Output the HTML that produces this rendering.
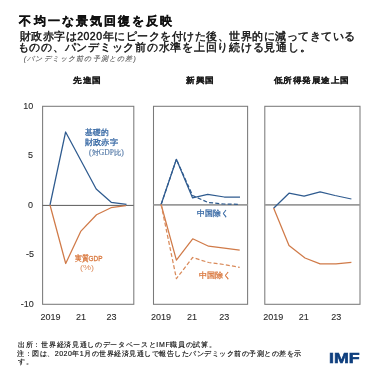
<!DOCTYPE html>
<html><head><meta charset="utf-8">
<style>
html,body{margin:0;padding:0;background:#fff;}
body{width:379px;height:379px;position:relative;overflow:hidden;filter:blur(0.3px);font-family:"Liberation Sans",sans-serif;color:#222;}
.t{position:absolute;white-space:nowrap;line-height:1;transform-origin:0 0;}
svg{position:absolute;left:0;top:0;}
</style></head><body>
<svg width="379" height="379" viewBox="0 0 379 379">
 <g fill="none" stroke="#7a7a7a" stroke-width="1.05">
  <rect x="42.6" y="106.3" width="91.2" height="198"/>
  <rect x="153.5" y="106.3" width="94.1" height="198"/>
  <rect x="264.8" y="106.3" width="95.2" height="198"/>
 </g>
 <g>
  <line x1="42.6" y1="205.4" x2="133.6" y2="205.4" stroke="#5a5a5a" stroke-width="1"/>
  <line x1="153.5" y1="204.9" x2="247.7" y2="204.9" stroke="#9a9a9a" stroke-width="1.7"/>
  <line x1="264.9" y1="204.9" x2="360" y2="204.9" stroke="#9a9a9a" stroke-width="1.8"/>
 </g>
 <g fill="none" stroke-width="1.25" stroke-linejoin="round">
  <polyline stroke="#2f5b8f" points="50,205 65.6,132 80.9,160.5 96.2,189 111.2,202.3 126.5,204.4"/>
  <polyline stroke="#d07a48" points="50,205 65.7,263.5 80.7,231.4 96.5,214.8 111,207.7 126,205.7"/>
  <polyline stroke="#2f5b8f" points="161.1,204.5 176.4,159.3 192.6,197.9 207.7,194.4 224.3,197 240,197"/>
  <polyline stroke="#2f5b8f" stroke-dasharray="4,2.2" points="161.1,204.5 176.4,159.3 192.6,195.5 208,202.5 224,204 240,204.3"/>
  <polyline stroke="#d07a48" points="161.1,204.5 176.4,260.2 192.7,238.8 208.6,246.2 224.3,248.2 239.7,250.1"/>
  <polyline stroke="#d98a5a" stroke-dasharray="4,2.2" points="161.1,204.5 176.4,278.6 192.7,257.5 208.6,262.5 224.4,264.6 239.7,267.3"/>
  <polyline stroke="#2f5b8f" points="273.6,208.3 289,193.2 304.1,196.1 320.1,191.8 335,195.5 351.4,199"/>
  <polyline stroke="#d07a48" points="273.6,208 289,245.5 305,258 320.1,263.8 336,263.8 351.4,262.3"/>
 </g>
</svg>
<div class="t" style="left:19.46px;top:15.26px;font-size:12.00px;letter-spacing:2.100px;font-weight:bold;color:#111;-webkit-text-stroke:0.3px #111;">不均一な景気回復を反映</div>
<div class="t" style="left:19.63px;top:30.58px;font-size:10.50px;letter-spacing:0.506px;color:#111;-webkit-text-stroke:0.4px #111;">財政赤字は2020年にピークを付けた後、世界的に減ってきている</div>
<div class="t" style="left:17.53px;top:42.40px;font-size:10.50px;letter-spacing:0.758px;color:#111;-webkit-text-stroke:0.4px #111;">ものの、パンデミック前の水準を上回り続ける見通し。</div>
<div class="t" style="left:23.84px;top:55.35px;font-size:7.00px;letter-spacing:1.165px;color:#5a5a5a;font-style:italic;-webkit-text-stroke:0.1px #5a5a5a;">(パンデミック前の予測との差)</div>
<div class="t" style="left:73.00px;top:76.60px;font-size:8.00px;transform:scaleX(1.0800);letter-spacing:0.990px;font-weight:bold;color:#1a1a1a;-webkit-text-stroke:0.15px #1a1a1a;">先進国</div>
<div class="t" style="left:185.52px;top:76.60px;font-size:8.00px;transform:scaleX(1.0800);letter-spacing:0.920px;font-weight:bold;color:#1a1a1a;-webkit-text-stroke:0.15px #1a1a1a;">新興国</div>
<div class="t" style="left:274.15px;top:76.60px;font-size:8.00px;transform:scaleX(1.0800);letter-spacing:0.760px;font-weight:bold;color:#1a1a1a;-webkit-text-stroke:0.15px #1a1a1a;">低所得発展途上国</div>
<div class="t" style="left:23.30px;top:102.42px;font-size:9.00px;color:#2a2a2a;-webkit-text-stroke:0.1px #2a2a2a;">10</div>
<div class="t" style="left:27.93px;top:151.45px;font-size:9.00px;color:#2a2a2a;-webkit-text-stroke:0.1px #2a2a2a;">5</div>
<div class="t" style="left:27.93px;top:201.19px;font-size:9.00px;color:#2a2a2a;-webkit-text-stroke:0.1px #2a2a2a;">0</div>
<div class="t" style="left:26.00px;top:250.42px;font-size:9.00px;color:#2a2a2a;-webkit-text-stroke:0.1px #2a2a2a;">-5</div>
<div class="t" style="left:20.67px;top:299.66px;font-size:9.00px;color:#2a2a2a;-webkit-text-stroke:0.1px #2a2a2a;">-10</div>
<div class="t" style="left:40.52px;top:313.13px;font-size:9.00px;color:#2a2a2a;-webkit-text-stroke:0.1px #2a2a2a;">2019</div>
<div class="t" style="left:75.93px;top:313.13px;font-size:9.00px;color:#2a2a2a;-webkit-text-stroke:0.1px #2a2a2a;">21</div>
<div class="t" style="left:106.52px;top:313.13px;font-size:9.00px;color:#2a2a2a;-webkit-text-stroke:0.1px #2a2a2a;">23</div>
<div class="t" style="left:151.04px;top:312.77px;font-size:9.00px;color:#2a2a2a;-webkit-text-stroke:0.1px #2a2a2a;">2019</div>
<div class="t" style="left:186.93px;top:312.77px;font-size:9.00px;color:#2a2a2a;-webkit-text-stroke:0.1px #2a2a2a;">21</div>
<div class="t" style="left:219.26px;top:312.77px;font-size:9.00px;color:#2a2a2a;-webkit-text-stroke:0.1px #2a2a2a;">23</div>
<div class="t" style="left:263.26px;top:312.77px;font-size:9.00px;color:#2a2a2a;-webkit-text-stroke:0.1px #2a2a2a;">2019</div>
<div class="t" style="left:298.67px;top:312.77px;font-size:9.00px;color:#2a2a2a;-webkit-text-stroke:0.1px #2a2a2a;">21</div>
<div class="t" style="left:331.15px;top:312.77px;font-size:9.00px;color:#2a2a2a;-webkit-text-stroke:0.1px #2a2a2a;">23</div>
<div class="t" style="left:85.37px;top:129.40px;font-size:7.50px;transform:scaleX(0.9695);color:#3567a3;-webkit-text-stroke:0.3px #3567a3;">基礎的</div>
<div class="t" style="left:85.37px;top:139.25px;font-size:7.50px;transform:scaleX(1.0246);color:#3567a3;-webkit-text-stroke:0.3px #3567a3;">財政赤字</div>
<div class="t" style="left:89.15px;top:149.52px;font-size:7.20px;transform:scaleX(1.0480);color:#5f82ad;font-family:'Liberation Serif',serif;-webkit-text-stroke:0.2px #5f82ad;">(対GDP比)</div>
<div class="t" style="left:75.37px;top:254.85px;font-size:7.50px;transform:scaleX(0.8496);color:#d9773d;-webkit-text-stroke:0.3px #d9773d;">実質GDP</div>
<div class="t" style="left:79.63px;top:263.94px;font-size:7.50px;transform:scaleX(1.1944);color:#dd8a5a;">(%)</div>
<div class="t" style="left:197.26px;top:210.48px;font-size:7.50px;transform:scaleX(0.9865);color:#3567a3;-webkit-text-stroke:0.3px #3567a3;">中国除く</div>
<div class="t" style="left:199.15px;top:271.59px;font-size:7.50px;transform:scaleX(1.0179);color:#d9773d;-webkit-text-stroke:0.3px #d9773d;">中国除く</div>
<div class="t" style="left:18.14px;top:341.09px;font-size:7.00px;letter-spacing:0.678px;color:#111;-webkit-text-stroke:0.15px #111;">出所：世界経済見通しのデータベースとIMF職員の試算。</div>
<div class="t" style="left:17.30px;top:349.68px;font-size:7.00px;letter-spacing:0.500px;color:#111;-webkit-text-stroke:0.15px #111;">注：図は、2020年1月の世界経済見通しで報告したパンデミック前の予測との差を示</div>
<div class="t" style="left:18.14px;top:358.48px;font-size:7.00px;letter-spacing:0.500px;color:#111;-webkit-text-stroke:0.15px #111;">す。</div>
<div class="t" style="left:329.34px;top:351.47px;font-size:14.50px;transform:scaleX(1.2287);font-weight:bold;color:#0f3f7e;-webkit-text-stroke:0.6px #0f3f7e;">IMF</div>
</body></html>
